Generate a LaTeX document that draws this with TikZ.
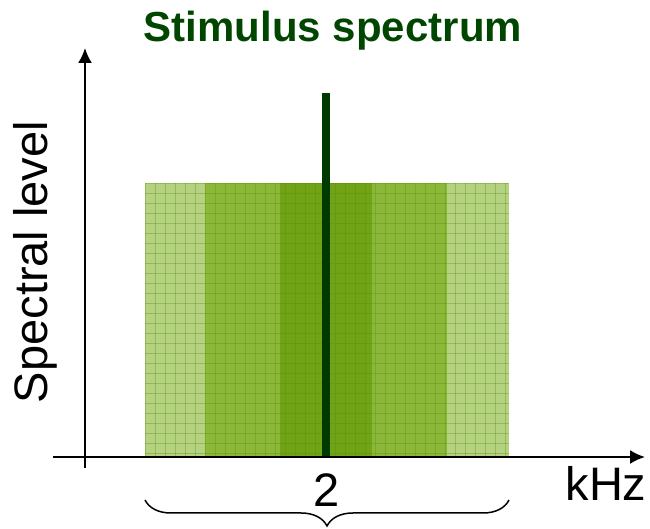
\documentclass[tikz,border=0pt]{standalone}
\usepackage{fontspec}
\setmainfont{Liberation Sans}
\usetikzlibrary{calc, arrows.meta, positioning, decorations.pathreplacing}

\definecolor{bandlight}{RGB}{180,210,128}
\definecolor{bandmid}{RGB}{140,184,58}
\definecolor{banddark}{RGB}{112,163,22}
\definecolor{gridgreen}{RGB}{90,140,10}
\definecolor{tonegreen}{RGB}{0,58,0}
\definecolor{titlegreen}{RGB}{0,70,0}

\tikzset{
    axis/.style={line width=2pt, -{Latex[length=15pt,width=14pt]}},
    bigtext/.style={font=\fontsize{47}{50}\selectfont, inner sep=0pt},
}

\begin{document}
\begin{tikzpicture}[x=1pt, y=1pt]
    \useasboundingbox (0,0) rectangle (650,529);

    % Spektrum (Rauschbänder)
    \fill[bandlight] (145,72) rectangle (509,346);
    \fill[bandmid] (205,72) rectangle (447,346);
    \fill[banddark] (280,72) rectangle (372,346);
    \begin{scope}
        \clip (145,72) rectangle (509,346);
        \foreach \gx in {145,155,...,515}
            \draw[gridgreen, opacity=0.35, line width=0.8pt] (\gx,72) -- (\gx,346);
        \foreach \gy in {76,86,...,346}
            \draw[gridgreen, opacity=0.35, line width=0.8pt] (145,\gy) -- (509,\gy);
    \end{scope}

    % Ton bei 2 kHz
    \draw[tonegreen, line width=8pt] (326,72) -- (326,436);

    % Achsen
    \coordinate (ybot) at (85,61);
    \coordinate (ytop) at (85,481);
    \coordinate (xleft) at (53,72);
    \coordinate (xright) at (645,72);
    \draw[axis] (ybot) -- (ytop);
    \draw[axis] (xleft) -- (xright);

    % Beschriftungen
    \node[font=\fontsize{42}{46}\selectfont\bfseries, text=titlegreen, inner sep=0pt]
        (title) at (333,498) {Stimulus spectrum};
    \node[bigtext, rotate=90] (ylabel) at (35,267) {Spectral level};
    \node[bigtext] (freq) at (327,39) {2};
    \node[bigtext] (unit) at (606,46) {kHz};

    % Klammer unter dem Band
    \coordinate (bl) at (145,29);
    \coordinate (br) at (509,29);
    \draw[line width=1.5pt, decorate, decoration={brace, amplitude=26pt}] (br) -- (bl);
\end{tikzpicture}
\end{document}
